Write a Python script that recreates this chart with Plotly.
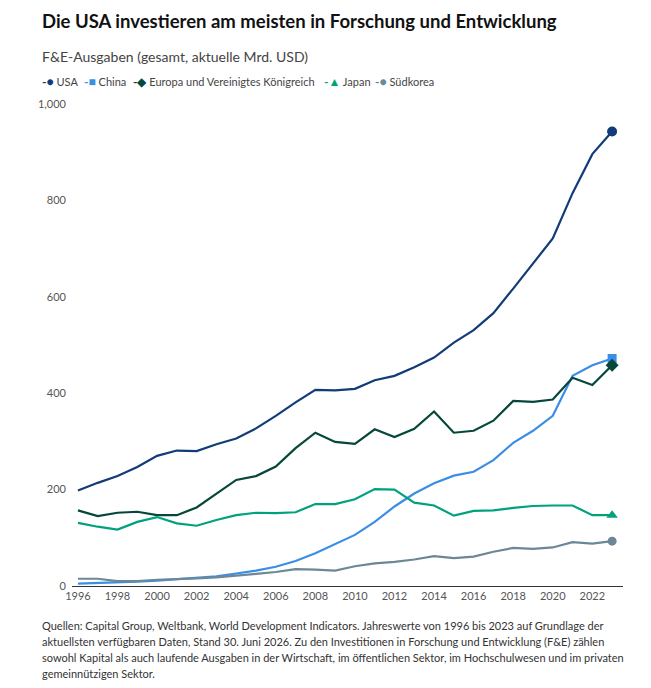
import plotly.graph_objects as go

years = list(range(1996, 2024))
usa = [198, 214, 228, 247, 270, 281, 280, 294, 306, 327, 353, 381, 407, 406, 409,
       427, 436, 454, 474, 505, 531, 566, 617, 669, 721, 815, 896, 943]
china = [5, 6, 7, 9, 11, 14, 17, 20, 26, 32, 40, 52, 68, 87, 106,
         133, 165, 192, 213, 229, 237, 261, 297, 322, 353, 436, 458, 472]
europe = [157, 145, 152, 154, 147, 147, 163, 192, 220, 228, 248, 286, 318, 299, 295,
          325, 309, 326, 362, 318, 322, 343, 384, 382, 387, 432, 417, 458]
japan = [131, 123, 117, 133, 143, 130, 125, 137, 147, 152, 151, 153, 170, 170, 180,
         201, 200, 173, 167, 146, 156, 157, 162, 166, 167, 167, 147, 147]
korea = [15, 15, 10, 10, 13, 14, 16, 18, 21, 25, 29, 35, 34, 32, 41,
         47, 50, 55, 62, 58, 61, 71, 79, 77, 80, 91, 88, 93]

series_names = ["USA", "China", "Europa und Vereinigtes Königreich", "Japan", "Südkorea"]
series_values = [usa, china, europe, japan, korea]
colors = ["#123b78", "#3a8ee6", "#05473a", "#00a27e", "#6c8897"]
symbols = ["circle", "square", "diamond", "triangle-up", "circle"]
sizes = [10, 9, 10, 10, 9]
glyphs = ["●", "■", "◆", "▲", "●"]
x_ticks = list(range(1996, 2023, 2))
y_ticks = [0, 200, 400, 600, 800, 1000]

FONT = "Lato"
W, H = 651, 688
L, R, T, B = 72, 28, 104, 102
ph = H - T - B

def py(Y):
    return (H - B - Y) / ph

def px(X):
    return (X - L) / (W - L - R)

fig = go.Figure()
for name, vals, c, s, sz in zip(series_names, series_values, colors, symbols, sizes):
    fig.add_trace(go.Scatter(x=years, y=vals, mode="lines", name=name,
                             line=dict(color=c, width=2.2), showlegend=False))
    fig.add_trace(go.Scatter(x=[years[-1]], y=[vals[-1]], mode="markers",
                             marker=dict(color=c, symbol=s, size=sz),
                             showlegend=False, hoverinfo="skip"))

ann = []
ann.append(dict(text="<b>Die USA investieren am meisten in Forschung und Entwicklung</b>",
                x=px(40), y=py(21), xref="paper", yref="paper", xanchor="left", yanchor="middle",
                showarrow=False, font=dict(family=FONT, size=18.5, color="#111")))
ann.append(dict(text="F&E-Ausgaben (gesamt, aktuelle Mrd. USD)",
                x=px(40), y=py(57), xref="paper", yref="paper", xanchor="left", yanchor="middle",
                showarrow=False, font=dict(family=FONT, size=14, color="#444")))

leg_x = [40, 82, 131, 322, 373]
for name, c, g, lx in zip(series_names, colors, glyphs, leg_x):
    ann.append(dict(text=f"<span style='color:{c};font-size:12px'><b>-</b>{g}</span> {name}",
                    x=px(lx), y=py(82), xref="paper", yref="paper", xanchor="left", yanchor="middle",
                    showarrow=False, font=dict(family=FONT, size=11, color="#444")))

footer = [
    "Quellen: Capital Group, Weltbank, World Development Indicators. Jahreswerte von 1996 bis 2023 auf Grundlage der",
    "aktuellsten verfügbaren Daten, Stand 30. Juni 2026. Zu den Investitionen in Forschung und Entwicklung (F&E) zählen",
    "sowohl Kapital als auch laufende Ausgaben in der Wirtschaft, im öffentlichen Sektor, im Hochschulwesen und im privaten",
    "gemeinnützigen Sektor.",
]
for i, line in enumerate(footer):
    ann.append(dict(text=line, x=px(40), y=py(625 + 16 * i), xref="paper", yref="paper",
                    xanchor="left", yanchor="middle", showarrow=False,
                    font=dict(family=FONT, size=11, color="#333")))

fig.update_layout(
    width=W, height=H,
    margin=dict(l=L, r=R, t=T, b=B),
    plot_bgcolor="white", paper_bgcolor="white",
    font=dict(family=FONT, size=11, color="#555"),
    annotations=ann,
    showlegend=False,
)
fig.update_xaxes(range=[1995.7, 2023.55], tickvals=x_ticks, ticktext=[str(t) for t in x_ticks],
                 showgrid=False, zeroline=False, showline=True, linecolor="#333", linewidth=1,
                 ticks="", tickfont=dict(size=11, color="#555"))
fig.update_yaxes(range=[0, 1000], tickvals=y_ticks, tickformat=",d",
                 showgrid=False, zeroline=False, showline=False, ticks="",
                 ticklabelstandoff=5,
                 tickfont=dict(size=11, color="#555"))

fig.write_html("out.html")
